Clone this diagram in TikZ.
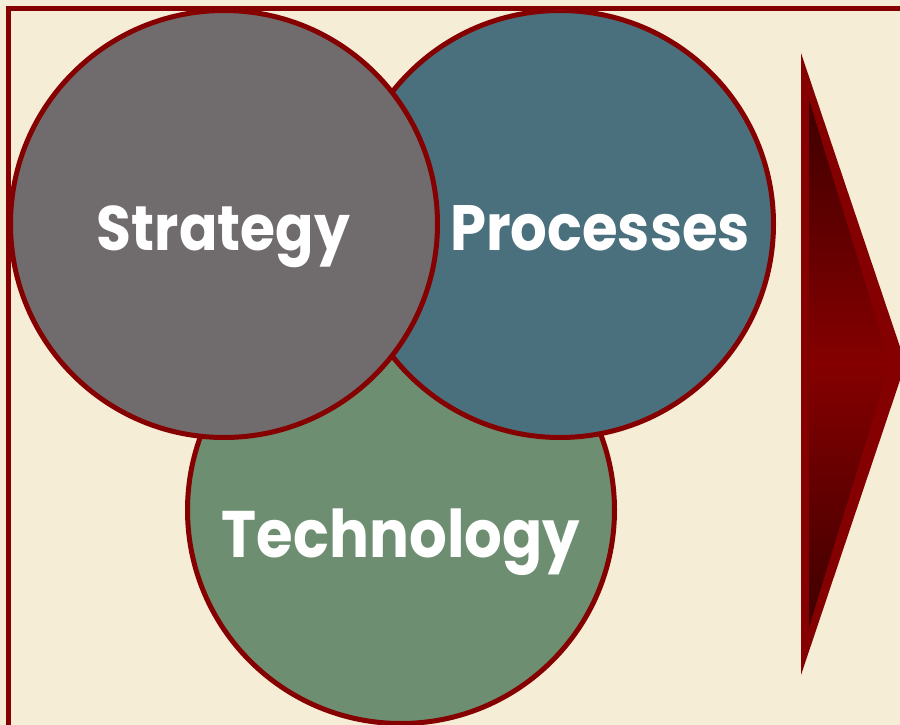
\documentclass[tikz,border=0pt]{standalone}
\usepackage{fontspec}
\newfontfamily\labfont{Poppins}
\usetikzlibrary{shapes.geometric}
\definecolor{paper}{HTML}{F5EDD6}
\definecolor{maroon}{HTML}{850000}
\definecolor{darkmaroon}{HTML}{3E0000}
\definecolor{strat}{HTML}{706B6C}
\definecolor{proc}{HTML}{4B707D}
\definecolor{tech}{HTML}{6E8E71}
\tikzset{
  venn/.style={circle, draw=maroon, line width=5pt, minimum size=427pt, inner sep=0pt},
  lab/.style={anchor=base, text=white, inner sep=0pt, font=\labfont\bfseries},
}
\newcommand{\labtext}[2]{\scalebox{1}[1.11]{\resizebox{#1}{!}{#2}}}
\begin{document}
\begin{tikzpicture}[x=1pt,y=-1pt]
\useasboundingbox (0,0) rectangle (900,725);
\fill[paper] (0,0) rectangle (900,725);
\begin{scope}
\clip (0,0) rectangle (900,725);
\draw[maroon, line width=4.5pt] (8.5,8.5) rectangle (940,760);
\node[venn, fill=tech] (tech) at (401,510) {};
\node[venn, fill=proc] (proc) at (560,224) {};
\node[venn, fill=strat] (strat) at (224,224) {};
\node[lab] (tstrat) at (223.5,250) {\labtext{253pt}{Strategy}};
\node[lab] (tproc) at (600,250) {\labtext{300pt}{Processes}};
\node[lab] (ttech) at (401,557) {\labtext{358pt}{Technology}};
\coordinate (atop) at (801,53);
\coordinate (atip) at (905.6,363.5);
\coordinate (abot) at (801,675);
\fill[maroon] (atop) -- (atip) -- (abot) -- cycle;
\shade[top color=darkmaroon, bottom color=darkmaroon, middle color=maroon]
  (809,100) -- (890,363.5) -- (809,627) -- cycle;
\end{scope}
\end{tikzpicture}
\end{document}
